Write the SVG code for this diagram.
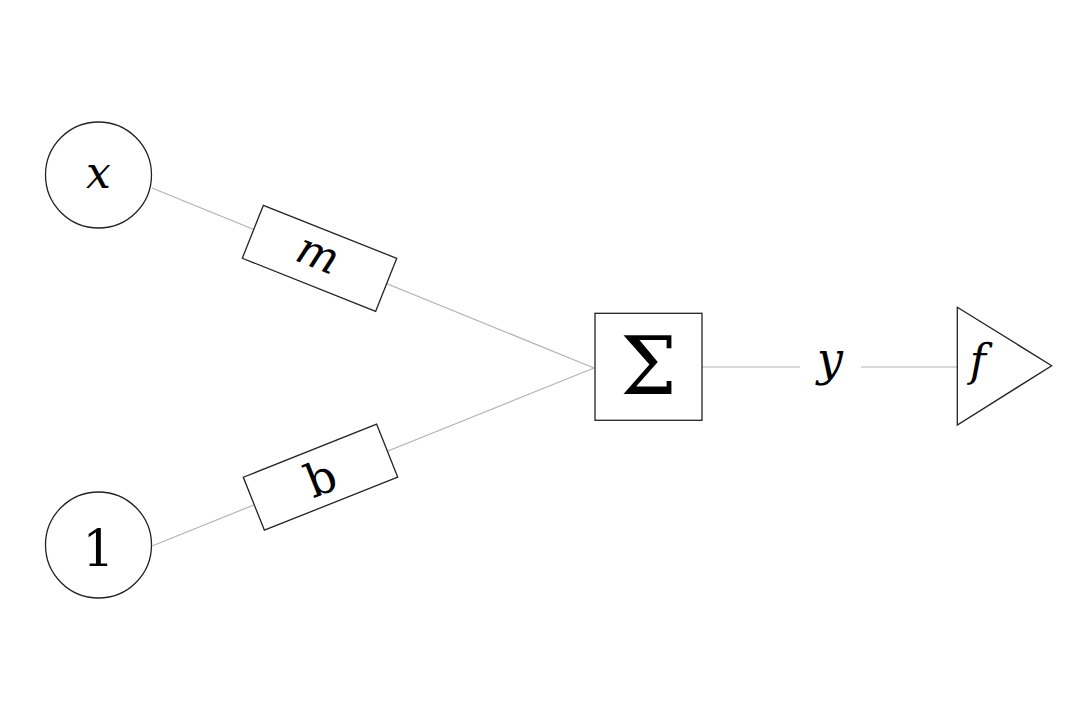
<svg xmlns="http://www.w3.org/2000/svg" width="1080" height="721" viewBox="0 0 1080 721">
<style>
.shape{fill:#fff;stroke:#222;stroke-width:1.3}
.wire{stroke:#b4b4b4;stroke-width:1.2;fill:none}
text{font-family:'DejaVu Serif','Liberation Serif',serif;fill:#000;text-anchor:middle}
.i{font-style:italic}
</style>
<rect width="1080" height="721" fill="#fff"/>
<g id="connectors">
<line class="wire" x1="152" y1="188" x2="594" y2="368"/>
<line class="wire" x1="152.7" y1="545.7" x2="594" y2="368"/>
<line class="wire" x1="702" y1="367" x2="800" y2="367"/>
<line class="wire" x1="861" y1="367" x2="957" y2="367"/>
</g>
<g id="node-x">
<circle class="shape" cx="98.5" cy="175" r="53"/>
<text class="i" x="98.5" y="188" font-size="44">x</text>
</g>
<g id="node-1">
<circle class="shape" cx="98.5" cy="545" r="53"/>
<text x="98.5" y="566" font-size="50">1</text>
</g>
<g id="node-m" transform="translate(319.5 258.3) rotate(21.7)">
<rect class="shape" x="-71.75" y="-28.5" width="143.5" height="57"/>
<text class="i" x="-3" y="11" font-size="44">m</text>
</g>
<g id="node-b" transform="translate(320.5 477.2) rotate(-21.7)">
<rect class="shape" x="-71.75" y="-28.5" width="143.5" height="57"/>
<text x="0" y="17" font-size="46">b</text>
</g>
<g id="node-sum">
<rect class="shape" x="595" y="313.3" width="107" height="107"/>
<text x="648.5" y="394" font-size="80">Σ</text>
</g>
<g id="label-y">
<text class="i" x="830" y="375" font-size="46">y</text>
</g>
<g id="node-f">
<polygon class="shape" points="957.3,307.3 1051.7,365.7 957.3,425"/>
<text class="i" x="978" y="375.5" font-size="44">f</text>
</g>
</svg>
